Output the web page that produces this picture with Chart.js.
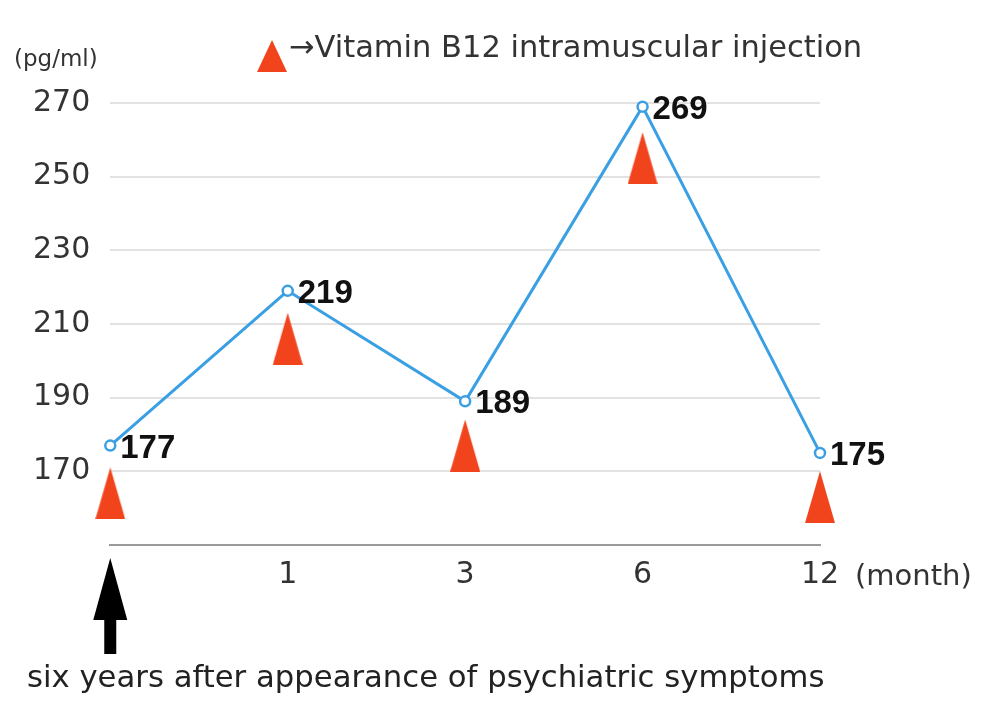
<!DOCTYPE html>
<html>
<head>
<meta charset="utf-8">
<script src="https://cdn.jsdelivr.net/npm/chart.js@4.4.1/dist/chart.umd.min.js"></script>
<style>
  html, body { margin: 0; padding: 0; background: #fff; }
  #wrap { width: 986px; height: 711px; }
</style>
</head>
<body>
<div id="wrap"><canvas id="b12Chart"></canvas></div>
<script>
// serum vitamin B12 (pg/ml) at each visit
var months = ['', '1', '3', '6', '12'];
var b12Levels = [177, 219, 189, 269, 175];
// where the injection triangles sit (centre, in pg/ml)
var injectionMarks = [164, 206, 177, 255, 163];
var yTicks = [170, 190, 210, 230, 250, 270];

var FONT = '"DejaVu Sans", sans-serif';
var BOLD_FONT = '"Liberation Sans", Arial, sans-serif';
var RED = '#f2441c';
var BLUE = '#3a9fe3';

function makeTriangle(w, h, color) {
    var c = document.createElement('canvas');
    c.width = w;
    c.height = h;
    var g = c.getContext('2d');
    g.fillStyle = color;
    g.beginPath();
    g.moveTo(w / 2, 0);
    g.lineTo(w, h);
    g.lineTo(0, h);
    g.closePath();
    g.fill();
    return c;
}

var triangleImg = makeTriangle(30, 52, RED);

var annotate = {
    id: 'annotate',
    afterDraw: function (chart) {
        var ctx = chart.ctx;
        var xs = chart.scales.x;
        var area = chart.chartArea;
        ctx.save();

        // value labels next to each point
        ctx.font = 'bold 33px ' + BOLD_FONT;
        ctx.fillStyle = '#111';
        ctx.textBaseline = 'alphabetic';
        ctx.textAlign = 'left';
        chart.getDatasetMeta(1).data.forEach(function (pt, i) {
            ctx.fillText(b12Levels[i], pt.x + 10, pt.y + 12);
        });

        // unit labels
        ctx.font = '23px ' + FONT;
        ctx.fillStyle = '#333';
        ctx.fillText('(pg/ml)', 14, 66);

        ctx.font = '29px ' + FONT;
        ctx.fillText('(month)', xs.getPixelForValue(4) + 35, area.bottom + 40);

        // legend
        var tri = makeTriangle(30, 32, RED);
        ctx.drawImage(tri, 257, 40);
        ctx.font = '30.5px ' + FONT;
        ctx.fillText('\u2192Vitamin B12 intramuscular injection', 289, 57);

        // black arrow under the starting point
        var ax = xs.getPixelForValue(0);
        var top = area.bottom + 13;
        ctx.fillStyle = '#000';
        ctx.beginPath();
        ctx.moveTo(ax, top);
        ctx.lineTo(ax + 17, top + 62);
        ctx.lineTo(ax + 6, top + 62);
        ctx.lineTo(ax + 6, top + 96);
        ctx.lineTo(ax - 6, top + 96);
        ctx.lineTo(ax - 6, top + 62);
        ctx.lineTo(ax - 17, top + 62);
        ctx.closePath();
        ctx.fill();

        ctx.font = '30.7px ' + FONT;
        ctx.fillStyle = '#222';
        ctx.fillText('six years after appearance of psychiatric symptoms', 27, 687);

        ctx.restore();
    }
};

var ctx = document.getElementById('b12Chart').getContext('2d');
new Chart(ctx, {
    type: 'line',
    data: {
        labels: months,
        datasets: [{
            label: 'injection',
            data: injectionMarks,
            showLine: false,
            pointStyle: triangleImg,
            pointRadius: 26,
            order: 2
        }, {
            label: 'B12',
            data: b12Levels,
            borderColor: BLUE,
            borderWidth: 3,
            pointRadius: 5,
            pointBorderWidth: 2.5,
            pointBackgroundColor: '#fff',
            pointBorderColor: BLUE,
            tension: 0,
            clip: false,
            order: 1
        }]
    },
    plugins: [annotate],
    options: {
        responsive: true,
        maintainAspectRatio: false,
        animation: false,
        layout: {
            padding: { top: 103, left: 13, right: 166, bottom: 106 }
        },
        plugins: {
            legend: { display: false },
            tooltip: { enabled: false }
        },
        scales: {
            x: {
                offset: false,
                grid: { display: true, drawOnChartArea: false, drawTicks: false },
                border: { display: true, color: '#9a9a9a', width: 2 },
                ticks: {
                    padding: 12,
                    color: '#333',
                    font: { family: FONT, size: 30 },
                    maxRotation: 0
                }
            },
            y: {
                min: 150,
                max: 270,
                afterBuildTicks: function (scale) {
                    scale.ticks = yTicks.map(function (v) { return { value: v }; });
                },
                grid: { color: '#e2e2e2', lineWidth: 2, drawTicks: false },
                border: { display: false },
                ticks: {
                    padding: 20,
                    color: '#333',
                    font: { family: FONT, size: 30 }
                }
            }
        }
    }
});
</script>
</body>
</html>
